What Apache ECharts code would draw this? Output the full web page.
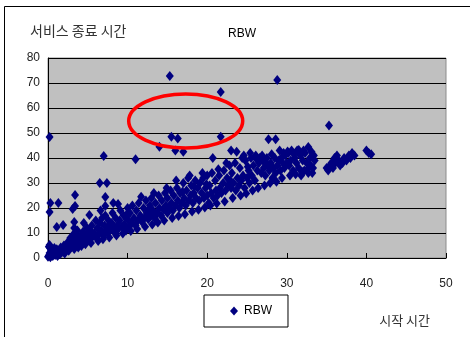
<!DOCTYPE html>
<html>
<head>
<meta charset="utf-8">
<script src="https://cdn.jsdelivr.net/npm/echarts@6/dist/echarts.min.js"></script>
<style>
  html, body { margin: 0; padding: 0; background: #fff; }
  #chart { width: 470px; height: 337px; }
</style>
</head>
<body>
<div id="chart"></div>
<script>
// Start time (x) vs. service end time (y) for the RBW scheduler
const seriesName = 'RBW';
const xTicks = [0, 10, 20, 30, 40, 50];
const yTicks = [0, 10, 20, 30, 40, 50, 60, 70, 80];

const startTimes = [
  0, 0.1, 0.2, 0.3, 0.4, 0.5, 0.6, 0.7, 0.8, 0.9, 1.0, 1.1, 1.2, 1.3, 1.5, 1.6, 1.7, 1.8, 2.0, 2.0, 0.1, 0.3, 0.2,
  2.2, 2.4, 2.5, 2.7, 2.8, 3.0, 3.1, 3.2, 3.4, 3.5, 3.6, 3.7, 3.9, 4.0, 4.1, 4.3, 4.4, 4.6, 4.8, 4.9, 5.0,
  5.2, 5.3, 5.5, 5.6, 5.8, 6.0, 6.1, 6.2, 6.4, 6.5, 6.7, 6.8, 7.0, 7.1, 7.2, 7.4, 7.5, 7.6, 7.8, 8.0, 8.1, 8.3, 8.4, 8.5, 8.7, 8.8, 9.0, 9.1, 9.3, 9.5, 9.6, 9.8, 10.0, 10.0,
  10.2, 10.3, 10.5, 10.6, 10.8, 11.0, 11.1, 11.3, 11.4, 11.6, 11.8, 12.0, 12.1, 12.3, 12.4, 12.6, 12.8, 12.9, 13.0, 13.2, 13.4, 13.5, 13.7, 13.9, 14.0, 14.2, 14.3, 14.5, 14.7, 14.8, 15.0, 15.0,
  15.2, 15.4, 15.5, 15.7, 15.8, 16.0, 16.2, 16.3, 16.5, 16.6, 16.8, 17.0, 17.1, 17.3, 17.4, 17.6, 17.7, 17.9, 18.0, 18.2, 18.3, 18.5, 18.6, 18.8, 19.0, 19.1, 19.3, 19.5, 19.6, 19.8, 20.0, 20.0,
  20.2, 20.3, 20.5, 20.6, 20.8, 21.0, 21.1, 21.3, 21.5, 21.6, 21.8, 22.0, 22.1, 22.3, 22.5, 22.6, 22.8, 23.0, 23.1, 23.3, 23.5, 23.6, 23.8, 24.0, 24.1, 24.3, 24.5, 24.7, 24.8, 25.0,
  25.2, 25.3, 25.5, 25.6, 25.8, 26.0, 26.1, 26.3, 26.5, 26.6, 26.8, 27.0, 27.1, 27.3, 27.5, 27.6, 27.8, 28.0, 28.2, 28.3, 28.5, 28.6, 28.8, 29.0, 29.2, 29.3, 29.5, 29.7, 29.8, 30.0,
  30.2, 30.3, 30.5, 30.6, 30.8, 31.0, 31.2, 31.3, 31.5, 31.7, 31.8, 32.0, 32.2, 32.3, 32.5, 32.7, 32.9, 33.0, 33.2, 33.4, 33.5,
  35.0, 35.2, 35.4, 35.6, 35.8, 36.0, 36.1, 36.3, 36.5, 36.7, 37.0, 37.2, 37.5, 37.8, 38.0, 38.2, 38.5, 40.0, 40.3, 40.6,
  // lower edge of the band
  2.1, 2.6, 3.3, 3.8, 4.2, 4.7, 5.4, 6.3, 6.9, 7.7, 8.6, 9.4, 10.4, 11.2, 12.2, 13.1, 13.8, 14.6,
  15.6, 16.4, 17.2, 18.1, 18.9, 19.7, 20.4, 21.2, 22.2, 23.2, 24.2, 24.9, 25.7, 26.4, 27.2, 27.9, 28.7, 29.4,
  30.4, 31.1, 31.9, 32.6, 33.3,
  // upper part of the band
  6.6, 8.2, 9.9, 11.7, 12.7, 13.3, 14.9, 16.1, 16.9, 17.8, 18.4, 19.4, 19.9, 21.4, 22.4, 22.9, 24.4, 25.1,
  26.2, 26.9, 27.4, 28.1, 29.1, 29.6, 30.9, 32.1, 33.1, 24.6, 25.4,
  // scattered points above the main band
  0.2, 15.3, 28.8, 21.7, 15.5, 16.3, 21.7, 14.0, 16.0, 17.0, 7.0, 11.0, 20.7, 23.0, 23.7, 27.7, 28.6, 35.3,
  0.3, 0.2, 1.3, 3.4, 3.1, 3.4, 6.5, 7.4, 7.2, 7.2, 8.8, 1.1, 1.9, 3.3, 3.3, 5.2, 4.5, 32.7, 31.5, 30.1
];

const endTimes = [
  0.5, 1, 2, 0.3, 3, 1.5, 0.8, 2.5, 4, 1.2, 2, 3.5, 0.8, 2.8, 1.5, 4.2, 2.2, 3, 5, 2.5, 4.5, 3.8, 5.2,
  3.5, 6, 4, 5.5, 8, 4.5, 7, 9.5, 6, 5, 8.5, 11, 7, 5.5, 9, 6.5, 10.5, 8, 7, 12, 9.5,
  7.5, 11, 13, 8.5, 10, 15, 8, 12, 9.5, 14, 11, 16, 9, 13, 17, 10.5, 12.5, 15, 11, 14, 18, 12, 10, 16, 13, 11.5, 15, 19, 12.5, 17, 13.5, 11, 15.5, 20,
  12.5, 18, 14, 21, 16, 13, 19, 15, 22, 17, 14.5, 20, 16, 23, 18, 15.5, 21, 17, 24, 19, 16, 22, 18, 25, 20, 17, 23, 19.5, 26, 21, 18, 24,
  20, 27, 22, 19, 25, 21, 28, 23, 20, 26, 22, 30, 24, 21, 27, 32, 23, 25, 29, 22, 26, 31, 24, 28, 23, 30, 26, 32, 24, 28, 25, 33,
  22, 29, 26, 34, 24, 31, 27, 25, 33, 28, 26, 30, 35, 27, 32, 29, 37, 28, 34, 30, 38, 27, 32, 29, 36, 31, 33, 28, 39, 32,
  35, 30, 40, 33, 37, 31, 41, 35, 38, 40, 34, 39, 36, 33, 40, 37, 35, 38, 32, 36, 40, 34, 37, 39, 35, 40, 38, 36, 41, 38,
  42, 37, 39, 43, 35, 40, 38, 43, 36, 41, 33, 39, 35, 42, 38, 34, 40, 37, 34, 41, 39,
  36, 35, 37, 38, 36, 40, 38, 41, 39, 37, 38, 40, 39, 41, 40, 42, 41, 43, 42, 41.5,
  1.8, 2.9, 3.6, 4.2, 4.8, 5.5, 6, 6.8, 7.5, 8.2, 9, 9.8, 10.8, 11.6, 12.5, 13.4, 14.2, 15,
  16, 16.8, 17.5, 18.6, 19.3, 20.2, 21, 21.8, 22.6, 24, 25, 25.8, 27, 28, 29, 30, 30.5, 32,
  33, 33.5, 34.5, 35.5, 36,
  19, 22, 17.5, 24.5, 19.5, 26, 28, 31, 26.5, 33, 28.5, 34, 29.5, 35.5, 38, 31, 40, 36.5,
  39.5, 41, 38, 41.5, 43, 42, 41.5, 43, 42.5, 41, 42,
  48.4, 72.8, 71.2, 66.4, 48.5, 47.8, 48.5, 44.5, 43, 42.5, 40.8, 39.5, 40, 43, 42.5, 47.5, 47.5, 53,
  22, 18.4, 22, 25.2, 19.6, 20.8, 30, 30, 24.4, 20.8, 21.6, 12.4, 13.2, 14.4, 12, 17.2, 14, 44.4, 43.2, 42.6
];

const points = startTimes.map((x, i) => [x, endTimes[i]]);

const chart = echarts.init(document.getElementById('chart'), null, { renderer: 'canvas' });

const labelFont = 'Liberation Sans, Arial, sans-serif';
const koFont = '"Noto Sans CJK KR", sans-serif';

chart.setOption({
  animation: false,
  backgroundColor: '#ffffff',
  title: {
    text: 'RBW',
    left: 223,
    top: 23,
    textStyle: { fontFamily: labelFont, fontSize: 12, fontWeight: 'normal', color: '#000' }
  },
  grid: {
    left: 48, top: 58, width: 398, height: 200,
    show: true,
    backgroundColor: '#c0c0c0',
    borderColor: '#8c8c8c',
    borderWidth: 1
  },
  legend: {
    left: 204, top: 295,
    padding: [10, 16, 10, 26],
    itemWidth: 8, itemHeight: 9, itemGap: 4,
    borderColor: '#000', borderWidth: 1,
    icon: 'diamond',
    textStyle: { fontFamily: labelFont, fontSize: 12, color: '#000', padding: [0, 0, 0, 1] },
    data: [seriesName]
  },
  xAxis: {
    type: 'value',
    min: xTicks[0], max: xTicks[xTicks.length - 1], interval: 10,
    name: '시작 시간',
    nameLocation: 'end',
    nameGap: 0,
    nameTextStyle: { fontFamily: koFont, fontSize: 13, color: '#333', align: 'right', verticalAlign: 'top', padding: [56, 16, 0, 0] },
    axisLine: { show: true, lineStyle: { color: '#000', width: 1 } },
    axisTick: { show: true, inside: true, length: 5, lineStyle: { color: '#000' } },
    axisLabel: { margin: 20, fontFamily: labelFont, fontSize: 12, color: '#222' },
    splitLine: { show: false }
  },
  yAxis: {
    type: 'value',
    min: yTicks[0], max: yTicks[yTicks.length - 1], interval: 10,
    name: '서비스 종료 시간',
    nameLocation: 'end',
    nameGap: 20,
    nameTextStyle: { fontFamily: koFont, fontSize: 14, color: '#333', align: 'left', padding: [0, 0, 0, -18] },
    axisLine: { show: true, lineStyle: { color: '#000', width: 1 } },
    axisTick: { show: true, inside: true, length: 4, lineStyle: { color: '#000' } },
    axisLabel: { margin: 8, fontFamily: labelFont, fontSize: 12, color: '#222' },
    splitLine: { show: true, lineStyle: { color: '#000', width: 1 } }
  },
  series: [{
    name: seriesName,
    type: 'scatter',
    symbol: 'diamond',
    symbolSize: [8, 10],
    itemStyle: { color: '#000080', opacity: 1 },
    data: points
  }]
});

// Highlight ring around the outlying group, placed in data coordinates
const ringCenter = chart.convertToPixel({ gridIndex: 0 }, [17.3, 54.8]);
chart.setOption({
  graphic: [
    {
      type: 'rect',
      shape: { x: 4.5, y: 6.5, width: 480, height: 340 },
      style: { fill: 'none', stroke: '#000', lineWidth: 1 },
      silent: true
    },
    {
      type: 'ellipse',
      shape: { cx: ringCenter[0], cy: ringCenter[1], rx: 57, ry: 27 },
      style: { fill: 'none', stroke: '#ff0000', lineWidth: 3.5 },
      z: 100,
      silent: true
    }
  ]
});
</script>
</body>
</html>
